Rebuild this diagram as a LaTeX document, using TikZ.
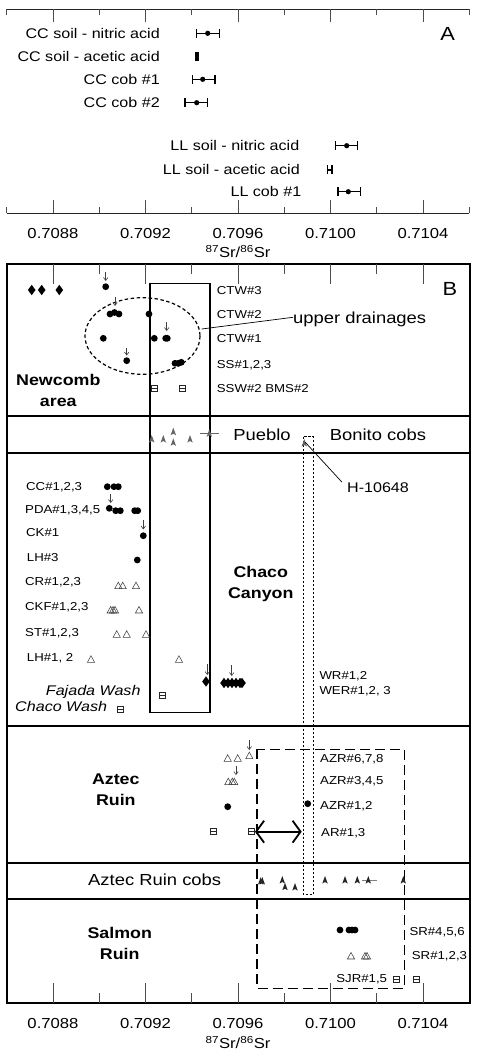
\documentclass[tikz,border=0pt]{standalone}
\usepackage{fontspec}
\setmainfont{Liberation Sans}[FakeStretch=1.15]
\usetikzlibrary{arrows.meta}

\tikzset{
  lab/.style={anchor=west, inner sep=0pt, text height=8.2pt, text depth=0pt,
    font=\fontsize{11.5}{13}\selectfont},
  alab/.style={anchor=east, inner sep=0pt, text height=10pt, text depth=0pt,
    font=\fontsize{14}{16}\selectfont},
  wash/.style={anchor=east, inner sep=0pt, text height=10pt, text depth=0pt,
    font=\fontsize{14}{16}\selectfont\itshape},
  band/.style={inner sep=0pt, text height=11.5pt, text depth=0pt,
    font=\fontsize{16}{18}\selectfont},
  site/.style={inner sep=0pt, align=center, font=\fontsize{15.5}{21.5}\selectfont\bfseries},
  ticklab/.style={inner sep=0pt, text height=10.4pt, text depth=0pt,
    font=\fontsize{14.5}{16}\selectfont},
  panel/.style={inner sep=0pt, text height=13.5pt, text depth=0pt,
    font=\fontsize{19}{21}\selectfont},
  axisline/.style={line width=1.1pt, black!85},
  tick/.style={line width=0.9pt, black!70},
  frame/.style={line width=1.8pt},
  ebar/.style={line width=1.3pt, {Bar[width=9pt,line width=1.3pt]}-{Bar[width=9pt,line width=1.3pt]}},
  dn/.style={line width=0.6pt, black!75, -{Straight Barb[length=3pt,width=4.5pt]}},
  opentri/.style={line width=0.55pt, black!75},
  sq/.style={line width=0.6pt, black!85},
}

\begin{document}
\begin{tikzpicture}[x=1pt, y=-1pt]
  \useasboundingbox (0,0) rectangle (477,1056);

  % panel A
  \draw[axisline] (6.7,9.3) -- (469.3,9.3);
  \draw[axisline] (6.7,213.3) -- (469.3,213.3);
  \foreach \x in {53,145.5,238,330.5,423} {
    \draw[tick] (\x,9.3) -- (\x,22.5);
    \draw[tick] (\x,213.3) -- (\x,200);
  }
  \foreach \x in {6.7,99.2,191.7,284.3,376.8,469.3} {
    \draw[tick] (\x,9.3) -- (\x,15);
    \draw[tick] (\x,213.3) -- (\x,207);
  }
  \node[panel] (pA) at (447.7,33.3) {A};

  \node[alab] (ccn) at (160,33.3) {CC soil - nitric acid};
  \node[alab] (cca) at (160,56.7) {CC soil - acetic acid};
  \node[alab] (cc1) at (160,79.3) {CC cob \#1};
  \node[alab] (cc2) at (160,102.7) {CC cob \#2};
  \node[alab] (lln) at (299.5,145.7) {LL soil - nitric acid};
  \node[alab] (lla) at (300,170) {LL soil - acetic acid};
  \node[alab] (ll1) at (301.5,191.7) {LL cob \#1};

  \draw[ebar] (196,33.3) -- (220,33.3);
  \draw[ebar] (195.3,56.7) -- (198.7,56.7);
  \draw[ebar] (191.7,79.3) -- (215.7,79.3);
  \draw[ebar] (184.3,102.7) -- (208.3,102.7);
  \draw[ebar] (335,145.7) -- (358.3,145.7);
  \draw[ebar] (327,170) -- (332.5,170);
  \draw[ebar] (337.3,191.7) -- (361,191.7);
  \foreach \x/\y in {207.7/33.3,202.7/79.3,196.7/102.7,346.7/145.7,348.3/191.7}
    \fill (\x,\y) circle (2.6);

  \node[ticklab] (a88) at (53,233.3) {0.7088};
  \node[ticklab] (a92) at (145.5,233.3) {0.7092};
  \node[ticklab] (a96) at (238,233.3) {0.7096};
  \node[ticklab] (a00) at (330.5,233.3) {0.7100};
  \node[ticklab] (a04) at (423,233.3) {0.7104};
  \node[ticklab] (atitle) at (238,252.3) {\textsuperscript{87}Sr/\textsuperscript{86}Sr};

  % panel B frame
  \draw[frame] (6.7,264) rectangle (470,1003.3);
  \draw[frame] (6.7,415.7) -- (470,415.7);
  \draw[frame] (6.7,453.3) -- (470,453.3);
  \draw[frame] (6.7,725.7) -- (470,725.7);
  \draw[frame] (6.7,863.3) -- (470,863.3);
  \draw[frame] (6.7,899.3) -- (470,899.3);
  \foreach \x in {53,145.5,238,330.5,423} {
    \draw[tick] (\x,264) -- (\x,284);
    \draw[tick] (\x,1003.3) -- (\x,983.3);
  }
  \foreach \x in {99.2,191.7,284.3,376.8} {
    \draw[tick] (\x,264) -- (\x,274);
    \draw[tick] (\x,1003.3) -- (\x,993.3);
  }
  \node[panel] (pB) at (450,288.3) {B};

  % boxes
  \draw[line width=1.4pt] (150,283.3) rectangle (210,712.3);
  \draw[line width=1.2pt, dash pattern=on 2.5pt off 1.5pt] (303.3,436.7) rectangle (313.3,894.5);
  \draw[line width=1.6pt, dash pattern=on 10pt off 5pt] (256.7,749.3) rectangle (404.3,988.3);
  \draw[line width=1.2pt, dash pattern=on 3.5pt off 2.5pt] (142.5,336) ellipse [x radius=57.5, y radius=38.3];

  % site names
  \node[site] (newcomb) at (58.3,390.5) {Newcomb\\area};
  \node[site] (chaco) at (260.8,584) {Chaco\\Canyon};
  \node[site] (aztec) at (115.8,789.5) {Aztec\\Ruin};
  \node[site] (salmon) at (119.7,943.5) {Salmon\\Ruin};
  \node[band] (pueblo) at (262,435) {Pueblo};
  \node[band] (bonito) at (378,435) {Bonito cobs};
  \node[band] (azcobs) at (154.7,879.3) {Aztec Ruin cobs};

  % sample labels
  \node[lab] (ctw3) at (216.7,290.7) {CTW\#3};
  \node[lab] (ctw2) at (216.7,314.3) {CTW\#2};
  \node[lab] (ctw1) at (216.7,338.3) {CTW\#1};
  \node[lab] (ss) at (216.7,364.3) {SS\#1,2,3};
  \node[lab] (ssw) at (216.7,388.3) {SSW\#2 BMS\#2};
  \node[lab] (cc) at (26,486.7) {CC\#1,2,3};
  \node[lab] (pda) at (25,509) {PDA\#1,3,4,5};
  \node[lab] (ck) at (26,532.3) {CK\#1};
  \node[lab] (lh3) at (26.7,557.3) {LH\#3};
  \node[lab] (cr) at (25,581.7) {CR\#1,2,3};
  \node[lab] (ckf) at (25,606.7) {CKF\#1,2,3};
  \node[lab] (st) at (25,632.7) {ST\#1,2,3};
  \node[lab] (lh12) at (26.7,657.3) {LH\#1, 2};
  \node[lab] (wr) at (319.3,675.7) {WR\#1,2};
  \node[lab] (wer) at (319.3,690.7) {WER\#1,2, 3};
  \node[wash] (fajada) at (140.7,690.7) {Fajada Wash};
  \node[wash] (chwash) at (107.3,706.7) {Chaco Wash};
  \node[lab] (azr678) at (320,758.3) {AZR\#6,7,8};
  \node[lab] (azr345) at (320,780) {AZR\#3,4,5};
  \node[lab] (azr12) at (320,805.7) {AZR\#1,2};
  \node[lab] (ar) at (321,832.3) {AR\#1,3};
  \node[lab] (sr456) at (409.3,931) {SR\#4,5,6};
  \node[lab] (sr123) at (411.7,955) {SR\#1,2,3};
  \node[lab, anchor=east] (sjr) at (387.3,978.3) {SJR\#1,5};

  % filled circles
  \foreach \x/\y in {105.7/286.7, 110/314, 114.5/312.5, 119/314, 149/314,
      103.3/338.3, 154.3/338.3, 165.7/338.3, 167.3/338.3,
      126.7/360.7, 175/363.3, 178.3/363.3, 181.3/362.3,
      107.3/486.7, 114/486.7, 118.3/486.7,
      109.3/508.3, 115.7/510.7, 120.3/510.7, 134.7/510.7, 137.7/510.7,
      143.3/535.7, 137.3/560,
      227.7/806.7, 307.7/803.7,
      340/930, 349/930, 352/930, 355/930}
    \fill (\x,\y) circle (3.4);

  % diamonds
  \foreach \x/\y in {31.7/290, 41.7/290, 59.3/290, 206/681.5,
      224/683, 228/683, 232/683, 236/683, 240/683, 242/683}
    \fill (\x,\y) +(0,-5.2) -- +(3.8,0) -- +(0,5.2) -- +(-3.8,0) -- cycle;

  % open triangles
  \foreach \x/\y in {118.3/585.7, 122.7/585.7, 136/585.7,
      110.7/610, 113/610, 115/610, 139/610,
      116.7/634.3, 126.7/634.3, 146/634.3,
      91/659.3, 179/659.3,
      227.7/758.3, 237.7/758.3, 249.3/755.7,
      228.3/781.7, 232.3/781.7, 234.3/781.7,
      351/956, 365/956, 367/956}
    \draw[opentri] (\x,\y) +(-3.6,3) -- +(3.6,3) -- +(0,-3.6) -- cycle;

  % open squares
  \foreach \x/\y in {154.3/388.3, 182.7/388.3, 162.3/695.7, 120/709,
      213.3/831.7, 251.7/831.7, 396.7/979.3, 416.7/979.3}
    \draw[sq] (\x,\y) +(-3,-3) rectangle +(3,3) +(-3,0) -- +(3,0);

  % cobs
  \draw[line width=0.5pt, black!60] (200,433.3) -- (219.3,433.3);
  \foreach \x/\y in {151.7/439, 163.3/439, 173.3/431.7, 173.3/442.3,
      190/439, 209.3/433.3, 304.3/443}
    \fill[black!60] (\x,\y) +(0,-4) -- +(2.7,3.5) -- +(0,2) -- +(-2.7,3.5) -- cycle;
  \draw[line width=0.5pt, black!50] (361.7,880) -- (376.7,880);
  \foreach \x/\y in {260.7/881, 262.3/881, 282.3/880, 285/886.7, 295/887,
      325/880, 345/880, 357.3/880, 368.3/880, 403.3/880}
    \fill[black!85] (\x,\y) +(0,-4) -- +(2.7,3.5) -- +(0,2) -- +(-2.7,3.5) -- cycle;

  % down arrows
  \foreach \x/\ya/\yb in {105.7/272/281, 115/297/306, 166.7/322/331,
      126.7/348/355.5, 110.7/494.3/503, 143.3/520/529.5,
      207.3/664/675, 231.7/665/676, 249.3/740/750, 236/766/775}
    \draw[dn] (\x,\ya) -- (\x,\yb);

  % callouts
  \node[band, anchor=west] (updr) at (293,317.3) {upper drainages};
  \coordinate (ellE) at (201.7,329);
  \draw[line width=0.7pt] (updr.west) -- (ellE);
  \node[band, text height=10pt, font=\fontsize{14}{16}\selectfont] (h) at (378,487.3) {H-10648};
  \coordinate (hcob) at (305,442);
  \draw[line width=0.7pt] ([xshift=-5pt]h.north west) -- (hcob);

  \coordinate (arL) at (255,831.7);
  \coordinate (arR) at (301.7,831.7);
  \draw[line width=1.8pt, {Straight Barb[length=8pt,width=22pt,line width=1.8pt]}-{Straight Barb[length=8pt,width=22pt,line width=1.8pt]}] (arL) -- (arR);

  % bottom axis
  \node[ticklab] (b88) at (53,1023.3) {0.7088};
  \node[ticklab] (b92) at (145.5,1023.3) {0.7092};
  \node[ticklab] (b96) at (238,1023.3) {0.7096};
  \node[ticklab] (b00) at (330.5,1023.3) {0.7100};
  \node[ticklab] (b04) at (423,1023.3) {0.7104};
  \node[ticklab] (btitle) at (238,1043.3) {\textsuperscript{87}Sr/\textsuperscript{86}Sr};
\end{tikzpicture}
\end{document}
